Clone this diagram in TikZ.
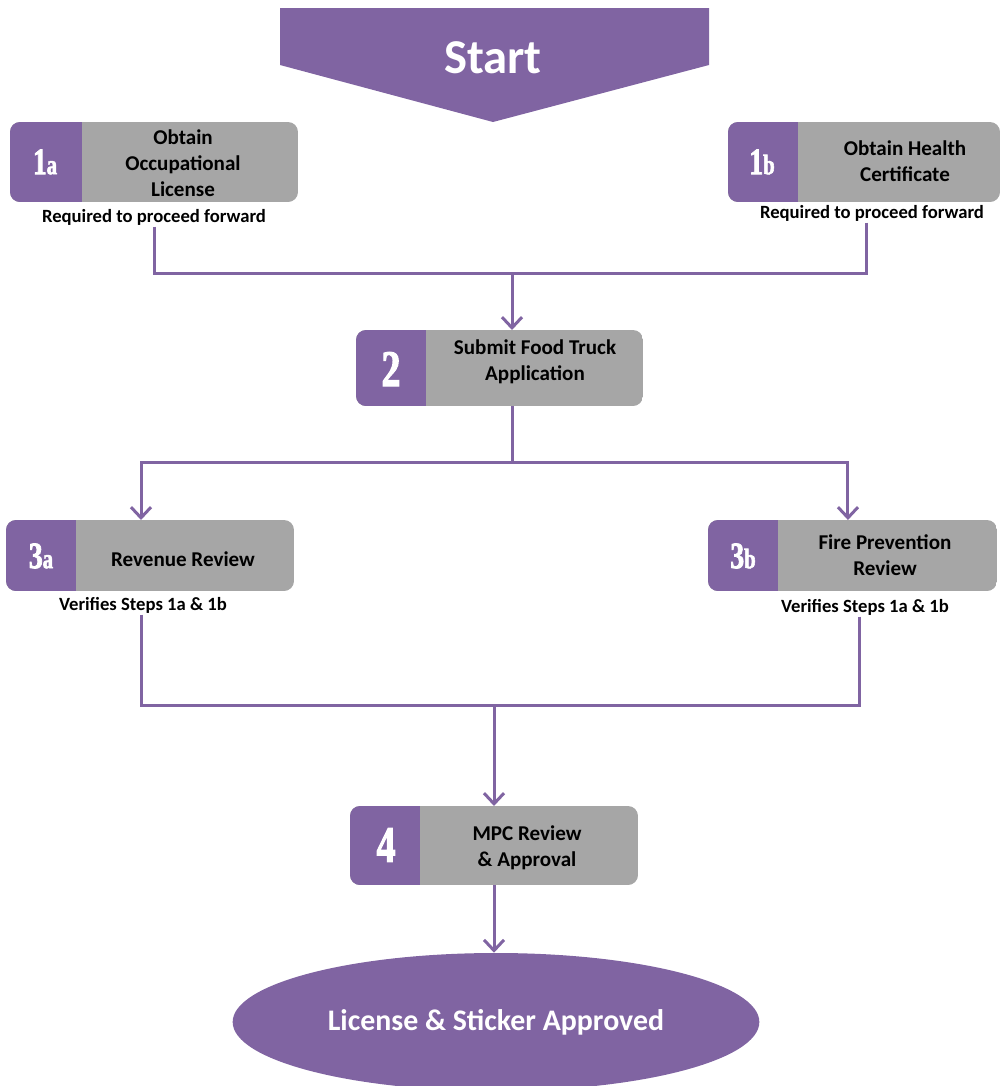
\documentclass[tikz,border=0pt]{standalone}
\usepackage{fontspec}
\setmainfont{Carlito}
\newfontfamily\numfont[FakeStretch=0.74,FakeBold=2,UprightFont={* Bold}]{Liberation Serif}
\usetikzlibrary{arrows.meta,shapes.geometric,fit}
\definecolor{purp}{HTML}{8064A2}
\definecolor{boxgray}{HTML}{A6A6A6}
\tikzset{
  conn/.style={draw=purp, line width=2.25pt},
  arr/.style={conn, -{Straight Barb[length=8pt,width=15pt]}},
  frame/.style={inner sep=0pt, outer sep=0pt, draw=none},
  lbl/.style={font=\bfseries\fontsize{15.8}{19.5}\selectfont, align=center, text=black, inner sep=0pt},
  sublbl/.style={font=\bfseries\fontsize{14}{16}\selectfont, text=black, inner sep=1pt},
  numlbl/.style={text=white, inner sep=0pt},
}
\newcommand\boxbg[5]{%
  \begin{scope}
    \clip[rounded corners=7.5pt] (#1,#2) rectangle (#3,#4);
    \fill[boxgray] (#1,#2) rectangle (#3,#4);
    \fill[purp] (#1,#2) rectangle (#5,#4);
  \end{scope}}
\newcommand\smallnum[2]{{\numfont\fontsize{28}{28}\selectfont #1\fontsize{21}{21}\selectfont #2}}
\newcommand\bignum[1]{{\numfont\fontsize{38.5}{38.5}\selectfont #1}}
\begin{document}
\begin{tikzpicture}[x=0.75pt,y=-0.75pt]
\useasboundingbox (0,0) rectangle (1005,1086);
% Start
\fill[purp] (280,8) -- (709,8) -- (709,65) -- (493,122) -- (280,65) -- cycle;
\node[text=white, font=\bfseries\fontsize{36.5}{36.5}\selectfont] (start) at (493,58) {Start};
% 1a
\boxbg{10}{122}{298}{202}{82}
\node[frame, fit={(10,122) (298,202)}] (b1a) {};
\node[numlbl] (n1a) at (45,162) {\smallnum{1}{a}};
\node[lbl] (t1a) at (183,163) {Obtain\\Occupational\\License};
\node[sublbl] (s1a) at (154,217) {Required to proceed forward};
% 1b
\boxbg{728}{122}{1000}{202}{798}
\node[frame, fit={(728,122) (1000,202)}] (b1b) {};
\node[numlbl] (n1b) at (762,162) {\smallnum{1}{b}};
\node[lbl] (t1b) at (905,161) {Obtain Health\\Certificate};
\node[sublbl] (s1b) at (872,213) {Required to proceed forward};
% 2
\boxbg{356}{330}{643}{406}{426}
\node[frame, fit={(356,330) (643,406)}] (b2) {};
\node[numlbl] (n2) at (391,369) {\bignum{2}};
\node[lbl] (t2) at (535,362) {Submit Food Truck\\Application};
% 3a
\boxbg{6}{520}{294}{591}{76}
\node[frame, fit={(6,520) (294,591)}] (b3a) {};
\node[numlbl] (n3a) at (41,556) {\smallnum{3}{a}};
\node[lbl] (t3a) at (183,559) {Revenue Review};
\node[sublbl] (s3a) at (143,605) {Verifies Steps 1a \& 1b};
% 3b
\boxbg{708}{520}{997}{591}{778}
\node[frame, fit={(708,520) (997,591)}] (b3b) {};
\node[numlbl] (n3b) at (743,556) {\smallnum{3}{b}};
\node[lbl] (t3b) at (885,555) {Fire Prevention\\Review};
\node[sublbl] (s3b) at (865,607) {Verifies Steps 1a \& 1b};
% 4
\boxbg{350}{806}{638}{885}{420}
\node[frame, fit={(350,806) (638,885)}] (b4) {};
\node[numlbl] (n4) at (386,845) {\bignum{4}};
\node[lbl] (t4) at (527,848) {MPC Review\\\& Approval};
% end
\node[ellipse, fill=purp, minimum width=395pt, minimum height=103.5pt, inner sep=0pt,
      text=white, font=\bfseries\fontsize{22.4}{22.4}\selectfont] (end) at (496,1022) {License \& Sticker Approved};
% connectors
\coordinate (j1) at (512,273);
\coordinate (j2) at (512,462);
\coordinate (j3) at (494,705);
\draw[conn] (s1a.south) |- (j1);
\draw[conn] ([xshift=-4.5pt]s1b.south) |- (j1);
\draw[arr] (j1) -- (j1 |- b2.north);
\draw[conn] (b2.south -| j1) -- (j2);
\draw[arr] (j2) -| ([xshift=-1.5pt]s3a |- b3a.north);
\draw[arr] (j2) -| ([xshift=-3.4pt]b3b.north);
\draw[conn] ([xshift=-1.5pt]s3a.south) |- (j3);
\draw[conn] ([xshift=-3.8pt]s3b.south) |- (j3);
\draw[arr] (j3) -- (b4.north);
\draw[arr] (b4.south) -- (b4.south |- end.north);
\end{tikzpicture}
\end{document}
